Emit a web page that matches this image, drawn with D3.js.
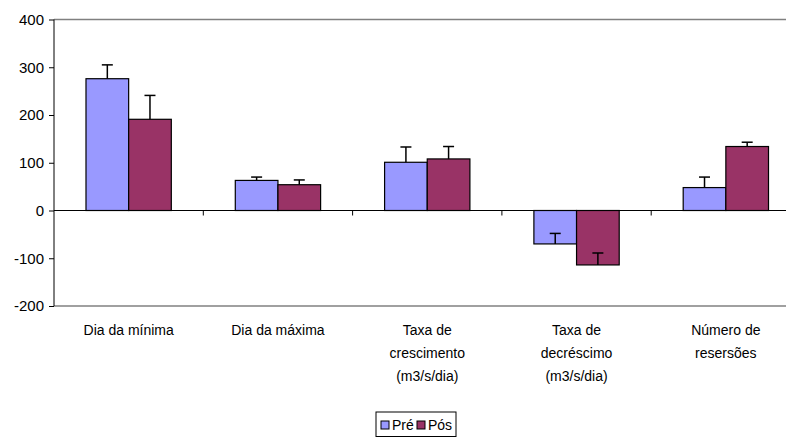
<!DOCTYPE html>
<html>
<head>
<meta charset="utf-8">
<script src="https://cdn.jsdelivr.net/npm/d3@7"></script>
<style>
  body { margin: 0; background: #fff; }
  text { font-family: "Liberation Sans", Arial, sans-serif; fill: #000; }
</style>
</head>
<body>
<svg id="chart"></svg>
<script>
const categories = [
    ['Dia da mínima'],
    ['Dia da máxima'],
    ['Taxa de', 'crescimento', '(m3/s/dia)'],
    ['Taxa de', 'decréscimo', '(m3/s/dia)'],
    ['Número de', 'resersões']
];
const seriesNames = ['Pré', 'Pós'];
const preValues = [276, 63, 101, -70, 48];
const preErrors = [29, 7, 32, 22, 22];
const posValues = [191, 54, 108, -114, 134];
const posErrors = [50, 10, 26, 25, 9];
const yTicks = [-200, -100, 0, 100, 200, 300, 400];
const colors = ['#9999ff', '#993366'];

class BarChart {
    constructor( config ) {
        this.config = {
            parent: config.parent,
            width: config.width || 786,
            height: config.height || 437,
            margin: config.margin || {top:19.5, right:0, bottom:131, left:54},
            plot_width: config.plot_width || 746.5
        }
        this.init();
    }

    init() {
        let self = this;
        self.svg = d3.select( self.config.parent )
            .attr('width', self.config.width)
            .attr('height', self.config.height);
        self.chart = self.svg.append('g')
            .attr('transform', `translate(${self.config.margin.left}, ${self.config.margin.top})`);
        self.inner_width = self.config.plot_width;
        self.inner_height = self.config.height - self.config.margin.top - self.config.margin.bottom;

        self.xscale = d3.scaleBand()
            .domain( d3.range(categories.length) )
            .range( [0, self.inner_width] )
            .paddingInner(0).paddingOuter(0);
        self.yscale = d3.scaleLinear()
            .domain( [-200, 400] )
            .range( [self.inner_height, 0] );

        self.data = categories.map( (c, i) => ({
            index: i,
            label: c,
            values: [
                {s: 0, v: preValues[i], e: preErrors[i]},
                {s: 1, v: posValues[i], e: posErrors[i]}
            ]
        }));
        self.render();
    }

    render() {
        let self = this;
        const bw = self.xscale.bandwidth();
        // gap width 150% of a bar
        const barw = bw / 3.5;
        const groupw = barw * 2;

        // plot area frame (top / bottom)
        self.chart.append('line')
            .attr('x1', 0).attr('x2', self.inner_width)
            .attr('y1', 0).attr('y2', 0)
            .attr('stroke', '#808080').attr('stroke-width', 1.5);
        self.chart.append('line')
            .attr('x1', 0).attr('x2', self.inner_width)
            .attr('y1', self.inner_height).attr('y2', self.inner_height)
            .attr('stroke', '#808080').attr('stroke-width', 1.5);

        // bars
        const groups = self.chart.selectAll('g.cat')
            .data(self.data)
            .join('g')
            .attr('class', 'cat')
            .attr('transform', d => `translate(${self.xscale(d.index) + (bw - groupw) / 2}, 0)`);
        groups.selectAll('rect')
            .data(d => d.values)
            .join('rect')
            .attr('x', d => d.s * barw)
            .attr('width', barw)
            .attr('y', d => self.yscale( Math.max(0, d.v) ))
            .attr('height', d => Math.abs( self.yscale(d.v) - self.yscale(0) ))
            .attr('fill', d => colors[d.s])
            .attr('stroke', '#000')
            .attr('stroke-width', 1.2);

        // error bars (plus direction)
        const capw = 11;
        groups.selectAll('line.err')
            .data(d => d.values)
            .join('line')
            .attr('class', 'err')
            .attr('x1', d => d.s * barw + barw / 2)
            .attr('x2', d => d.s * barw + barw / 2)
            .attr('y1', d => self.yscale(d.v))
            .attr('y2', d => self.yscale(d.v + d.e))
            .attr('stroke', '#000').attr('stroke-width', 1.5);
        groups.selectAll('line.cap')
            .data(d => d.values)
            .join('line')
            .attr('class', 'cap')
            .attr('x1', d => d.s * barw + barw / 2 - capw / 2)
            .attr('x2', d => d.s * barw + barw / 2 + capw / 2)
            .attr('y1', d => self.yscale(d.v + d.e))
            .attr('y2', d => self.yscale(d.v + d.e))
            .attr('stroke', '#000').attr('stroke-width', 1.5);

        // zero line with category ticks
        const y0 = self.yscale(0);
        self.chart.append('line')
            .attr('x1', 0).attr('x2', self.inner_width)
            .attr('y1', y0).attr('y2', y0)
            .attr('stroke', '#000').attr('stroke-width', 1);
        self.chart.selectAll('line.ctick')
            .data(d3.range(1, categories.length))
            .join('line')
            .attr('class', 'ctick')
            .attr('x1', i => self.xscale(i)).attr('x2', i => self.xscale(i))
            .attr('y1', y0).attr('y2', y0 + 5)
            .attr('stroke', '#000').attr('stroke-width', 1);

        // y axis
        self.yaxis = d3.axisLeft( self.yscale )
            .tickValues(yTicks)
            .tickSize(5)
            .tickPadding(5)
            .tickFormat(d => String(d));
        const yg = self.chart.append('g').call(self.yaxis);
        yg.select('.domain').attr('stroke', '#000').attr('d', `M0,0V${self.inner_height}`);
        yg.selectAll('.tick line').attr('stroke', '#000');
        yg.selectAll('.tick text')
            .attr('fill', '#000')
            .style('font-size', '15px')
            .style('font-family', '"Liberation Sans", Arial, sans-serif');

        // category labels
        const labels = self.chart.selectAll('text.cat')
            .data(self.data)
            .join('text')
            .attr('class', 'cat')
            .attr('text-anchor', 'middle')
            .style('font-size', '14px')
            .attr('transform', d => `translate(${self.xscale(d.index) + bw / 2}, ${self.inner_height + 29})`);
        labels.selectAll('tspan')
            .data(d => d.label)
            .join('tspan')
            .attr('x', 0)
            .attr('y', (d, i) => i * 23)
            .text(d => d);

        // legend
        const lg = self.svg.append('g')
            .attr('transform', 'translate(376, 412)');
        lg.append('rect')
            .attr('width', 80).attr('height', 24.5)
            .attr('fill', '#fff').attr('stroke', '#000').attr('stroke-width', 1);
        const items = lg.selectAll('g.item')
            .data(seriesNames)
            .join('g')
            .attr('class', 'item')
            .attr('transform', (d, i) => `translate(${5 + i * 36}, 0)`);
        items.append('rect')
            .attr('x', 0).attr('y', 9)
            .attr('width', 8).attr('height', 8)
            .attr('fill', (d, i) => colors[i])
            .attr('stroke', '#000').attr('stroke-width', 1);
        items.append('text')
            .attr('x', 11).attr('y', 18)
            .style('font-size', '14px')
            .text(d => d);
    }
}

new BarChart({ parent: '#chart' });
</script>
</body>
</html>
